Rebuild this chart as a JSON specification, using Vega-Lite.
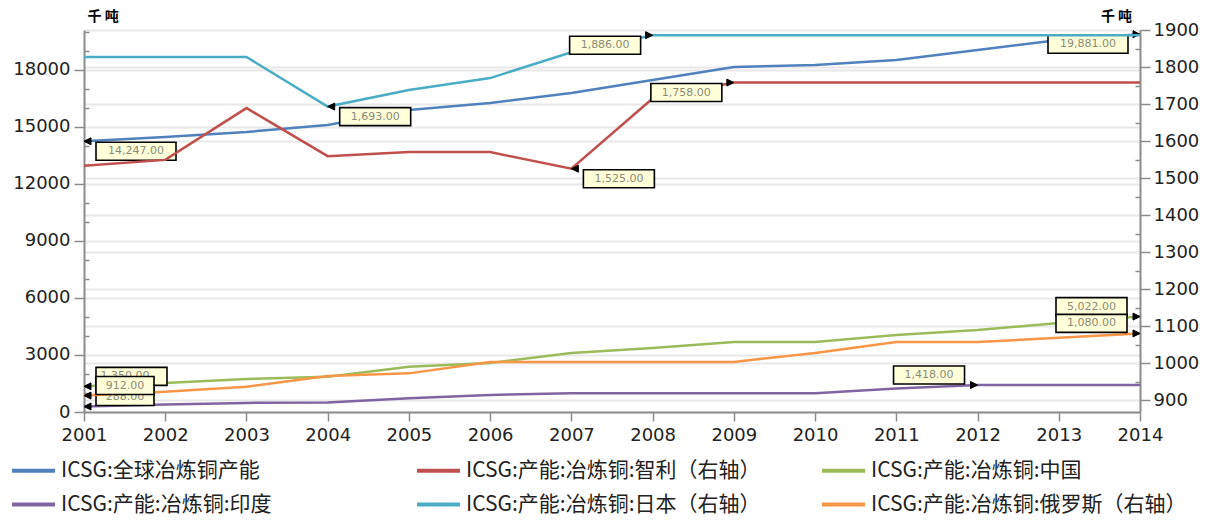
{
  "$schema": "https://vega.github.io/schema/vega-lite/v6.json",
  "width": 1056,
  "height": 382,
  "autosize": {"type": "none"},
  "padding": {"left": 84, "top": 30, "right": 83, "bottom": 113},
  "background": "white",
  "datasets": {
    "d": [
      {"series": "ICSG:全球冶炼铜产能", "year": 2001, "value": 14247},
      {"series": "ICSG:全球冶炼铜产能", "year": 2002, "value": 14474},
      {"series": "ICSG:全球冶炼铜产能", "year": 2003, "value": 14737},
      {"series": "ICSG:全球冶炼铜产能", "year": 2004, "value": 15105},
      {"series": "ICSG:全球冶炼铜产能", "year": 2005, "value": 15894},
      {"series": "ICSG:全球冶炼铜产能", "year": 2006, "value": 16263},
      {"series": "ICSG:全球冶炼铜产能", "year": 2007, "value": 16790},
      {"series": "ICSG:全球冶炼铜产能", "year": 2008, "value": 17473},
      {"series": "ICSG:全球冶炼铜产能", "year": 2009, "value": 18157},
      {"series": "ICSG:全球冶炼铜产能", "year": 2010, "value": 18263},
      {"series": "ICSG:全球冶炼铜产能", "year": 2011, "value": 18526},
      {"series": "ICSG:全球冶炼铜产能", "year": 2012, "value": 19052},
      {"series": "ICSG:全球冶炼铜产能", "year": 2013, "value": 19578},
      {"series": "ICSG:全球冶炼铜产能", "year": 2014, "value": 19881},
      {"series": "ICSG:产能:冶炼铜:智利（右轴）", "year": 2001, "value": 1533},
      {"series": "ICSG:产能:冶炼铜:智利（右轴）", "year": 2002, "value": 1549},
      {"series": "ICSG:产能:冶炼铜:智利（右轴）", "year": 2003, "value": 1689},
      {"series": "ICSG:产能:冶炼铜:智利（右轴）", "year": 2004, "value": 1559},
      {"series": "ICSG:产能:冶炼铜:智利（右轴）", "year": 2005, "value": 1570},
      {"series": "ICSG:产能:冶炼铜:智利（右轴）", "year": 2006, "value": 1570},
      {"series": "ICSG:产能:冶炼铜:智利（右轴）", "year": 2007, "value": 1525},
      {"series": "ICSG:产能:冶炼铜:智利（右轴）", "year": 2008, "value": 1715},
      {"series": "ICSG:产能:冶炼铜:智利（右轴）", "year": 2009, "value": 1758},
      {"series": "ICSG:产能:冶炼铜:智利（右轴）", "year": 2010, "value": 1758},
      {"series": "ICSG:产能:冶炼铜:智利（右轴）", "year": 2011, "value": 1758},
      {"series": "ICSG:产能:冶炼铜:智利（右轴）", "year": 2012, "value": 1758},
      {"series": "ICSG:产能:冶炼铜:智利（右轴）", "year": 2013, "value": 1758},
      {"series": "ICSG:产能:冶炼铜:智利（右轴）", "year": 2014, "value": 1758},
      {"series": "ICSG:产能:冶炼铜:中国", "year": 2001, "value": 1350},
      {"series": "ICSG:产能:冶炼铜:中国", "year": 2002, "value": 1526},
      {"series": "ICSG:产能:冶炼铜:中国", "year": 2003, "value": 1737},
      {"series": "ICSG:产能:冶炼铜:中国", "year": 2004, "value": 1850},
      {"series": "ICSG:产能:冶炼铜:中国", "year": 2005, "value": 2385},
      {"series": "ICSG:产能:冶炼铜:中国", "year": 2006, "value": 2579},
      {"series": "ICSG:产能:冶炼铜:中国", "year": 2007, "value": 3105},
      {"series": "ICSG:产能:冶炼铜:中国", "year": 2008, "value": 3368},
      {"series": "ICSG:产能:冶炼铜:中国", "year": 2009, "value": 3684},
      {"series": "ICSG:产能:冶炼铜:中国", "year": 2010, "value": 3684},
      {"series": "ICSG:产能:冶炼铜:中国", "year": 2011, "value": 4052},
      {"series": "ICSG:产能:冶炼铜:中国", "year": 2012, "value": 4316},
      {"series": "ICSG:产能:冶炼铜:中国", "year": 2013, "value": 4684},
      {"series": "ICSG:产能:冶炼铜:中国", "year": 2014, "value": 5022},
      {"series": "ICSG:产能:冶炼铜:印度", "year": 2001, "value": 288},
      {"series": "ICSG:产能:冶炼铜:印度", "year": 2002, "value": 390},
      {"series": "ICSG:产能:冶炼铜:印度", "year": 2003, "value": 480},
      {"series": "ICSG:产能:冶炼铜:印度", "year": 2004, "value": 500},
      {"series": "ICSG:产能:冶炼铜:印度", "year": 2005, "value": 720},
      {"series": "ICSG:产能:冶炼铜:印度", "year": 2006, "value": 895},
      {"series": "ICSG:产能:冶炼铜:印度", "year": 2007, "value": 990},
      {"series": "ICSG:产能:冶炼铜:印度", "year": 2008, "value": 990},
      {"series": "ICSG:产能:冶炼铜:印度", "year": 2009, "value": 990},
      {"series": "ICSG:产能:冶炼铜:印度", "year": 2010, "value": 990},
      {"series": "ICSG:产能:冶炼铜:印度", "year": 2011, "value": 1240},
      {"series": "ICSG:产能:冶炼铜:印度", "year": 2012, "value": 1418},
      {"series": "ICSG:产能:冶炼铜:印度", "year": 2013, "value": 1418},
      {"series": "ICSG:产能:冶炼铜:印度", "year": 2014, "value": 1418},
      {"series": "ICSG:产能:冶炼铜:日本（右轴）", "year": 2001, "value": 1827},
      {"series": "ICSG:产能:冶炼铜:日本（右轴）", "year": 2002, "value": 1827},
      {"series": "ICSG:产能:冶炼铜:日本（右轴）", "year": 2003, "value": 1827},
      {"series": "ICSG:产能:冶炼铜:日本（右轴）", "year": 2004, "value": 1693},
      {"series": "ICSG:产能:冶炼铜:日本（右轴）", "year": 2005, "value": 1738},
      {"series": "ICSG:产能:冶炼铜:日本（右轴）", "year": 2006, "value": 1770},
      {"series": "ICSG:产能:冶炼铜:日本（右轴）", "year": 2007, "value": 1840},
      {"series": "ICSG:产能:冶炼铜:日本（右轴）", "year": 2008, "value": 1886},
      {"series": "ICSG:产能:冶炼铜:日本（右轴）", "year": 2009, "value": 1886},
      {"series": "ICSG:产能:冶炼铜:日本（右轴）", "year": 2010, "value": 1886},
      {"series": "ICSG:产能:冶炼铜:日本（右轴）", "year": 2011, "value": 1886},
      {"series": "ICSG:产能:冶炼铜:日本（右轴）", "year": 2012, "value": 1886},
      {"series": "ICSG:产能:冶炼铜:日本（右轴）", "year": 2013, "value": 1886},
      {"series": "ICSG:产能:冶炼铜:日本（右轴）", "year": 2014, "value": 1886},
      {"series": "ICSG:产能:冶炼铜:俄罗斯（右轴）", "year": 2001, "value": 912},
      {"series": "ICSG:产能:冶炼铜:俄罗斯（右轴）", "year": 2002, "value": 922},
      {"series": "ICSG:产能:冶炼铜:俄罗斯（右轴）", "year": 2003, "value": 936},
      {"series": "ICSG:产能:冶炼铜:俄罗斯（右轴）", "year": 2004, "value": 965},
      {"series": "ICSG:产能:冶炼铜:俄罗斯（右轴）", "year": 2005, "value": 972},
      {"series": "ICSG:产能:冶炼铜:俄罗斯（右轴）", "year": 2006, "value": 1003},
      {"series": "ICSG:产能:冶炼铜:俄罗斯（右轴）", "year": 2007, "value": 1003},
      {"series": "ICSG:产能:冶炼铜:俄罗斯（右轴）", "year": 2008, "value": 1003},
      {"series": "ICSG:产能:冶炼铜:俄罗斯（右轴）", "year": 2009, "value": 1003},
      {"series": "ICSG:产能:冶炼铜:俄罗斯（右轴）", "year": 2010, "value": 1027},
      {"series": "ICSG:产能:冶炼铜:俄罗斯（右轴）", "year": 2011, "value": 1057},
      {"series": "ICSG:产能:冶炼铜:俄罗斯（右轴）", "year": 2012, "value": 1057},
      {"series": "ICSG:产能:冶炼铜:俄罗斯（右轴）", "year": 2013, "value": 1068},
      {"series": "ICSG:产能:冶炼铜:俄罗斯（右轴）", "year": 2014, "value": 1080}
    ]
  },
  "data": {"name": "d"},
  "encoding": {
    "x": {
      "field": "year",
      "type": "quantitative",
      "scale": {"domain": [2001, 2014], "nice": false, "zero": false},
      "axis": {
        "title": null,
        "values": [2001, 2001.5, 2002, 2002.5, 2003, 2003.5, 2004, 2004.5, 2005, 2005.5, 2006, 2006.5, 2007, 2007.5, 2008, 2008.5, 2009, 2009.5, 2010, 2010.5, 2011, 2011.5, 2012, 2012.5, 2013, 2013.5, 2014],
        "format": "d",
        "labelExpr": "datum.value % 1 === 0 ? datum.label : ''",
        "tickSize": {"condition": {"test": "datum.value % 1 === 0", "value": 9}, "value": 5},
        "grid": false,
        "labelFlush": false,
        "labelOverlap": false,
        "labelPadding": 5,
        "labelFont": "DejaVu Sans",
        "labelFontSize": 18,
        "labelColor": "#222222",
        "domainColor": "#8c8c8c",
        "domainWidth": 2,
        "tickColor": "#8c8c8c",
        "tickWidth": 1.5
      }
    }
  },
  "layer": [
    {
      "encoding": {
        "y": {
          "field": "value",
          "type": "quantitative",
          "scale": {"domain": [0, 20105], "nice": false, "zero": false},
          "axis": {
            "orient": "left",
            "values": [0, 1000, 2000, 3000, 4000, 5000, 6000, 7000, 8000, 9000, 10000, 11000, 12000, 13000, 14000, 15000, 16000, 17000, 18000, 19000, 20000],
            "format": "d",
            "labelExpr": "datum.value % 3000 === 0 ? datum.label : ''",
            "tickSize": {"condition": {"test": "datum.value % 3000 === 0", "value": 10}, "value": -5},
            "grid": true,
            "gridOpacity": {"condition": {"test": "datum.value % 3000 === 0", "value": 1}, "value": 0},
            "gridColor": "#e8e8e8",
            "gridWidth": 2,
            "labelPadding": 4,
            "labelFont": "DejaVu Sans",
            "labelFontSize": 18,
            "labelColor": "#222222",
            "domainColor": "#8c8c8c",
            "domainWidth": 2,
            "tickColor": "#8c8c8c",
            "tickWidth": 1.5,
            "title": "千 吨",
            "titleAngle": 0,
            "titleAlign": "left",
            "titleBaseline": "middle",
            "titleX": 3,
            "titleY": -14,
            "titleFont": "Noto Sans CJK SC",
            "titleFontSize": 14,
            "titleFontWeight": "bold",
            "titleColor": "#000000"
          }
        }
      },
      "layer": [
        {
          "transform": [{"filter": {"field": "series", "oneOf": ["ICSG:全球冶炼铜产能", "ICSG:产能:冶炼铜:中国", "ICSG:产能:冶炼铜:印度"]}}],
          "mark": {"type": "line", "strokeWidth": 2.5},
          "encoding": {
            "color": {
              "field": "series",
              "type": "nominal",
              "scale": {
                "domain": ["ICSG:全球冶炼铜产能", "ICSG:产能:冶炼铜:智利（右轴）", "ICSG:产能:冶炼铜:中国", "ICSG:产能:冶炼铜:印度", "ICSG:产能:冶炼铜:日本（右轴）", "ICSG:产能:冶炼铜:俄罗斯（右轴）"],
                "range": ["#4f81bd", "#c0504d", "#9bbb59", "#8064a2", "#4bacc6", "#f79646"]
              },
              "legend": {
                "title": null,
                "orient": "none",
                "legendX": -74,
                "legendY": 417,
                "columns": 3,
                "direction": "horizontal",
                "gridAlign": "all",
                "columnPadding": 32,
                "rowPadding": -4,
                "symbolType": "stroke",
                "symbolSize": 1849,
                "symbolStrokeWidth": 4,
                "labelFont": "Noto Sans CJK SC",
                "labelFontSize": 21,
                "labelColor": "#222222",
                "labelOffset": 4,
                "labelLimit": 500
              }
            }
          }
        },
        {
          "transform": [{"filter": "(datum.series==='ICSG:全球冶炼铜产能' && (datum.year===2001 || datum.year===2014)) || (datum.series==='ICSG:产能:冶炼铜:中国' && (datum.year===2001 || datum.year===2014)) || (datum.series==='ICSG:产能:冶炼铜:印度' && (datum.year===2001 || datum.year===2012))"}],
          "mark": {"type": "point", "filled": true, "fill": "#000000", "stroke": "#000000", "strokeWidth": 1, "size": 4, "opacity": 1},
          "encoding": {
            "shape": {
              "condition": {"test": "datum.year === 2014 || datum.year === 2012", "value": "M0,0L-7,-3.5L-7,3.5Z"},
              "value": "M0,0L7,-3.5L7,3.5Z"
            }
          }
        },
        {
          "transform": [{"filter": "(datum.series==='ICSG:全球冶炼铜产能' && (datum.year===2001 || datum.year===2014)) || (datum.series==='ICSG:产能:冶炼铜:中国' && (datum.year===2001 || datum.year===2014)) || (datum.series==='ICSG:产能:冶炼铜:印度' && (datum.year===2001 || datum.year===2012))"}],
          "mark": {"type": "point", "filled": true, "fill": "#ffffd9", "stroke": "#000000", "strokeWidth": 1.6, "size": 4, "opacity": 1},
          "encoding": {
            "shape": {
              "condition": [
                {"test": "datum.series==='ICSG:全球冶炼铜产能' && datum.year===2001", "value": "M12,1L92,1L92,19L12,19Z"},
                {"test": "datum.series==='ICSG:全球冶炼铜产能' && datum.year===2014", "value": "M-92,1L-12,1L-12,19L-92,19Z"},
                {"test": "datum.year===2014 || datum.year===2012", "value": "M-84,-19L-13,-19L-13,-1L-84,-1Z"},
                {"test": "datum.series==='ICSG:产能:冶炼铜:印度'", "value": "M12,-19L70,-19L70,-1L12,-1Z"}
              ],
              "value": "M12,-19L83,-19L83,-1L12,-1Z"
            }
          }
        },
        {
          "transform": [{"filter": "datum.series==='ICSG:全球冶炼铜产能' && datum.year===2001"}],
          "mark": {"type": "text", "dx": 52, "dy": 10, "align": "center", "baseline": "middle", "font": "DejaVu Sans", "fontSize": 11, "fill": "#8a8a78"},
          "encoding": {"text": {"field": "value", "type": "quantitative", "format": ",.2f"}}
        },
        {
          "transform": [{"filter": "datum.series==='ICSG:全球冶炼铜产能' && datum.year===2014"}],
          "mark": {"type": "text", "dx": -52, "dy": 10, "align": "center", "baseline": "middle", "font": "DejaVu Sans", "fontSize": 11, "fill": "#8a8a78"},
          "encoding": {"text": {"field": "value", "type": "quantitative", "format": ",.2f"}}
        },
        {
          "transform": [{"filter": "(datum.series==='ICSG:产能:冶炼铜:中国' && datum.year===2014) || (datum.series==='ICSG:产能:冶炼铜:印度' && datum.year===2012)"}],
          "mark": {"type": "text", "dx": -48.5, "dy": -10, "align": "center", "baseline": "middle", "font": "DejaVu Sans", "fontSize": 11, "fill": "#8a8a78"},
          "encoding": {"text": {"field": "value", "type": "quantitative", "format": ",.2f"}}
        },
        {
          "transform": [{"filter": "(datum.series==='ICSG:产能:冶炼铜:中国' || datum.series==='ICSG:产能:冶炼铜:印度') && datum.year===2001"}],
          "mark": {"type": "text", "dx": 41, "dy": -10, "align": "center", "baseline": "middle", "font": "DejaVu Sans", "fontSize": 11, "fill": "#8a8a78"},
          "encoding": {"text": {"field": "value", "type": "quantitative", "format": ",.2f"}}
        }
      ]
    },
    {
      "encoding": {
        "y": {
          "field": "value",
          "type": "quantitative",
          "scale": {"domain": [867.6, 1900], "nice": false, "zero": false},
          "axis": {
            "orient": "right",
            "values": [900, 950, 1000, 1050, 1100, 1150, 1200, 1250, 1300, 1350, 1400, 1450, 1500, 1550, 1600, 1650, 1700, 1750, 1800, 1850, 1900],
            "format": "d",
            "labelExpr": "datum.value % 100 === 0 ? datum.label : ''",
            "tickSize": {"condition": {"test": "datum.value % 100 === 0", "value": 10}, "value": -5},
            "grid": true,
            "gridOpacity": {"condition": {"test": "datum.value % 100 === 0", "value": 1}, "value": 0},
            "gridColor": "#e8e8e8",
            "gridWidth": 2,
            "labelPadding": 3,
            "labelFont": "DejaVu Sans",
            "labelFontSize": 18,
            "labelColor": "#222222",
            "domainColor": "#8c8c8c",
            "domainWidth": 2,
            "tickColor": "#8c8c8c",
            "tickWidth": 1.5,
            "title": "千 吨",
            "titleAngle": 0,
            "titleAlign": "center",
            "titleBaseline": "middle",
            "titleX": -24,
            "titleY": -14,
            "titleFont": "Noto Sans CJK SC",
            "titleFontSize": 14,
            "titleFontWeight": "bold",
            "titleColor": "#000000"
          }
        }
      },
      "layer": [
        {
          "transform": [{"filter": {"field": "series", "oneOf": ["ICSG:产能:冶炼铜:智利（右轴）", "ICSG:产能:冶炼铜:日本（右轴）", "ICSG:产能:冶炼铜:俄罗斯（右轴）"]}}],
          "mark": {"type": "line", "strokeWidth": 2.5},
          "encoding": {
            "color": {"field": "series", "type": "nominal"}
          }
        },
        {
          "transform": [{"filter": "(datum.series==='ICSG:产能:冶炼铜:智利（右轴）' && (datum.year===2007 || datum.year===2009)) || (datum.series==='ICSG:产能:冶炼铜:日本（右轴）' && (datum.year===2004 || datum.year===2008)) || (datum.series==='ICSG:产能:冶炼铜:俄罗斯（右轴）' && (datum.year===2001 || datum.year===2014))"}],
          "mark": {"type": "point", "filled": true, "fill": "#000000", "stroke": "#000000", "strokeWidth": 1, "size": 4, "opacity": 1},
          "encoding": {
            "shape": {
              "condition": {"test": "datum.year === 2014 || datum.year === 2008 || datum.year === 2009", "value": "M0,0L-7,-3.5L-7,3.5Z"},
              "value": "M0,0L7,-3.5L7,3.5Z"
            }
          }
        },
        {
          "transform": [{"filter": "(datum.series==='ICSG:产能:冶炼铜:智利（右轴）' && (datum.year===2007 || datum.year===2009)) || (datum.series==='ICSG:产能:冶炼铜:日本（右轴）' && (datum.year===2004 || datum.year===2008)) || (datum.series==='ICSG:产能:冶炼铜:俄罗斯（右轴）' && (datum.year===2001 || datum.year===2014))"}],
          "mark": {"type": "point", "filled": true, "fill": "#ffffd9", "stroke": "#000000", "strokeWidth": 1.6, "size": 4, "opacity": 1},
          "encoding": {
            "shape": {
              "condition": [
                {"test": "datum.year===2004 || datum.year===2007", "value": "M12,1L83,1L83,19L12,19Z"},
                {"test": "datum.year===2008 || datum.year===2009", "value": "M-83,1L-12,1L-12,19L-83,19Z"},
                {"test": "datum.year===2014", "value": "M-84,-19L-13,-19L-13,-1L-84,-1Z"}
              ],
              "value": "M12,-19L70,-19L70,-1L12,-1Z"
            }
          }
        },
        {
          "transform": [{"filter": "(datum.series==='ICSG:产能:冶炼铜:日本（右轴）' && datum.year===2004) || (datum.series==='ICSG:产能:冶炼铜:智利（右轴）' && datum.year===2007)"}],
          "mark": {"type": "text", "dx": 47.5, "dy": 10, "align": "center", "baseline": "middle", "font": "DejaVu Sans", "fontSize": 11, "fill": "#8a8a78"},
          "encoding": {"text": {"field": "value", "type": "quantitative", "format": ",.2f"}}
        },
        {
          "transform": [{"filter": "(datum.series==='ICSG:产能:冶炼铜:日本（右轴）' && datum.year===2008) || (datum.series==='ICSG:产能:冶炼铜:智利（右轴）' && datum.year===2009)"}],
          "mark": {"type": "text", "dx": -47.5, "dy": 10, "align": "center", "baseline": "middle", "font": "DejaVu Sans", "fontSize": 11, "fill": "#8a8a78"},
          "encoding": {"text": {"field": "value", "type": "quantitative", "format": ",.2f"}}
        },
        {
          "transform": [{"filter": "datum.series==='ICSG:产能:冶炼铜:俄罗斯（右轴）' && datum.year===2014"}],
          "mark": {"type": "text", "dx": -48.5, "dy": -10, "align": "center", "baseline": "middle", "font": "DejaVu Sans", "fontSize": 11, "fill": "#8a8a78"},
          "encoding": {"text": {"field": "value", "type": "quantitative", "format": ",.2f"}}
        },
        {
          "transform": [{"filter": "datum.series==='ICSG:产能:冶炼铜:俄罗斯（右轴）' && datum.year===2001"}],
          "mark": {"type": "text", "dx": 41, "dy": -10, "align": "center", "baseline": "middle", "font": "DejaVu Sans", "fontSize": 11, "fill": "#8a8a78"},
          "encoding": {"text": {"field": "value", "type": "quantitative", "format": ",.2f"}}
        }
      ]
    }
  ],
  "resolve": {"scale": {"y": "independent"}},
  "config": {
    "view": {"stroke": null},
    "font": "DejaVu Sans"
  }
}
